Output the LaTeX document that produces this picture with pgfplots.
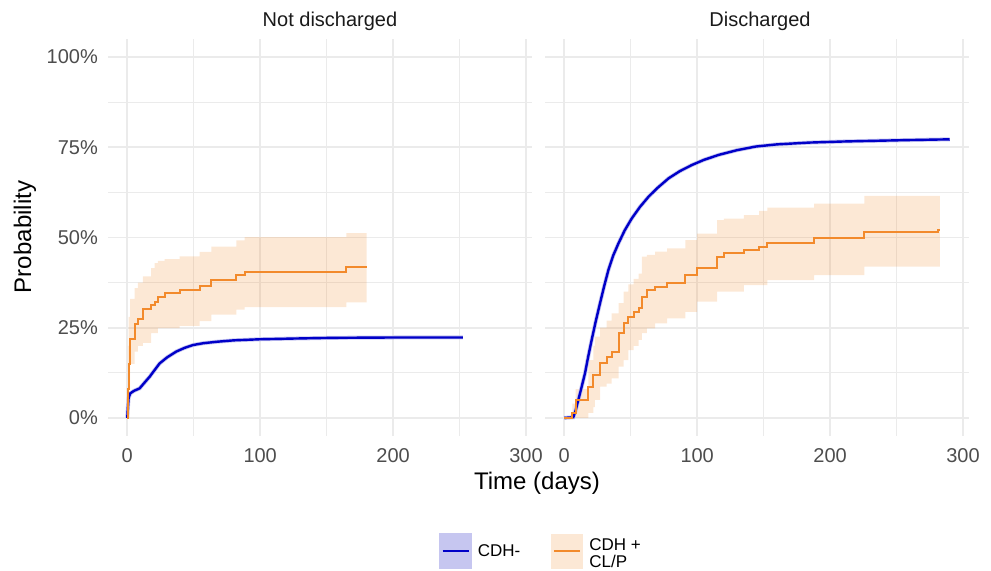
\documentclass[border=0pt]{standalone}
\usepackage{pgfplots}
\pgfplotsset{compat=1.18}
\usepackage{pgfplotstable}
\usepgfplotslibrary{fillbetween}
\usepackage{fontspec}
\setmainfont{Liberation Sans}

\definecolor{cdhblue}{HTML}{0000C8}
\definecolor{blueband}{HTML}{C6C6F0}
\definecolor{cdhorange}{HTML}{F28A2C}
\definecolor{orangeband}{HTML}{FCE8D5}
\definecolor{gridc}{HTML}{EBEBEB}
\definecolor{ticktext}{HTML}{4D4D4D}
\definecolor{striptext}{HTML}{1A1A1A}

% Not discharged, CDH-
\pgfplotstableread{
t est
0 0
0.5 3
1 5.5
2.2 6.8
5 7.5
9.3 8.2
13 9.8
16.8 11.4
20 13
24.3 15.1
30 16.8
36.9 18.4
43 19.4
49.4 20.2
57 20.7
67 21.1
80 21.5
99.6 21.8
125 22.0
154.8 22.2
205 22.3
252.5 22.3
}\leftblue

% Not discharged, CDH + CL/P
\pgfplotstableread{
t est lo hi
0 0 0 0
0.5 8 2 20
1 15 8 28
2.2 22 15 33
5.5 26 18.4 36
8 27.3 20 37.5
11.8 30.1 20.8 39.2
18 31.3 23.5 41.5
20.6 32.2 23.5 42.9
23.1 33.4 24.9 43.5
28.1 34.5 24.9 44
39.4 35.4 25.5 44.8
54.4 36.6 26.8 46
63.2 38.2 28.6 47.5
82 39.6 30 49.2
88.3 40.5 30.7 50.1
164.9 41.9 32 51.2
180 41.9 32 51.2
}\leftorange

% Discharged, CDH-
\pgfplotstableread{
t est
0 0
6.8 0.2
8.5 2
10.6 5
13 8.5
15.6 12.4
18 17
20.6 21.6
23.5 26.5
26.9 31.8
30 36.5
33.2 41
36.8 45
40.8 48.4
45.5 52
50.8 55.3
57 58.5
63.4 61.3
70 63.7
78.5 66.4
87 68.4
96.1 70.1
105 71.5
116.3 72.9
130 74.2
144 75.2
160 75.8
184.3 76.3
210 76.6
234.6 76.8
260 77.0
290 77.2
}\rightblue

% Discharged, CDH + CL/P
\pgfplotstableread{
t est lo hi
0 0 0 0
6 1.5 0 4
8.5 5 0 8
18.1 8.7 1.4 16
21.9 11.9 3 20
23.1 11.9 5 22.5
26.9 15.1 8.7 25
31.9 17 9.5 27
35.7 18.4 11 29
40.8 23.5 14.2 31.8
44.6 26.2 16 35
48.3 28.1 18.8 37
52.1 29.4 20 38.5
55.9 30.4 21.6 40
58.4 33.6 23.5 44.7
62.2 35.5 24.8 45.2
68.4 36.4 26.2 46.1
77.3 37.3 27.6 47
91.1 39.6 29.4 49.3
100 41.5 32.2 51.1
115 44.7 35 54.8
120 45.6 35 55.2
135.2 46.5 36.8 56.2
146.5 47.5 36.8 57.4
152.8 48.6 38.2 58.3
188 49.8 39.6 59.4
225.8 51.6 41.9 61.5
281 52.2 41.9 61.5
282.5 52.2 41.9 61.5
}\rightorange

\pgfplotsset{
  panel/.style={
    scale only axis, width=424pt, height=397pt, anchor=south west,
    xmin=-14.5, xmax=304.5, ymin=-5, ymax=105,
    xtick={0,100,200,300}, minor xtick={50,150,250},
    ytick={0,25,50,75,100}, minor ytick={12.5,37.5,62.5,87.5},
    xticklabels={0,100,200,300},
    grid=both,
    major grid style={color=gridc, line width=1.8pt},
    minor grid style={color=gridc, line width=0.9pt},
    axis line style={draw=none},
    major tick style={draw=none}, minor tick style={draw=none},
    tick label style={font=\fontsize{20}{24}\selectfont, text=ticktext, inner sep=0pt},
    xticklabel style={anchor=north, yshift=-12pt},
    yticklabel style={anchor=east, xshift=-10pt},
  },
  bandstyle/.style={fill=cdhorange, fill opacity=0.2, draw=none, forget plot},
}

\begin{document}
\begin{tikzpicture}
\path (0pt,0pt) rectangle (991pt,570pt);

\begin{axis}[panel, at={(108pt,134pt)},
  yticklabels={0\%,25\%,50\%,75\%,100\%},
  legend style={at={(1.0215,-0.2897)}, anchor=center, draw=none, fill=none,
    font=\fontsize{17}{18}\selectfont,
    legend columns=2,
    /tikz/every odd column/.append style={column sep=4pt},
    /tikz/every even column/.append style={column sep=29pt}},
  legend cell align=left,
]
\addplot[name path=hiL, draw=none, const plot, forget plot] table[x=t,y=hi]{\leftorange};
\addplot[name path=loL, draw=none, const plot, forget plot] table[x=t,y=lo]{\leftorange};
\addplot[bandstyle] fill between[of=hiL and loL];
\addplot[blueband, line width=4pt, forget plot] table[x=t,y=est]{\leftblue};
\addplot[cdhblue, line width=2.4pt,
  legend image code/.code={\fill[blueband] (0pt,-16.5pt) rectangle (30pt,16.5pt);
    \draw[cdhblue, line width=2.4pt] (2pt,0pt) -- (28pt,0pt);}]
  table[x=t,y=est]{\leftblue};
\addlegendentry{CDH-}
\addplot[cdhorange, line width=2pt, const plot,
  legend image code/.code={\fill[orangeband] (0pt,-16.5pt) rectangle (30pt,16.5pt);
    \draw[cdhorange, line width=2.2pt] (2pt,0pt) -- (28pt,0pt);}]
  table[x=t,y=est]{\leftorange};
\addlegendentry{\raisebox{3pt}{\begin{tabular}{@{}l@{}}CDH +\\[-1pt]CL/P\end{tabular}}}
\end{axis}

\begin{axis}[panel, at={(545pt,134pt)}, yticklabels={}]
\addplot[name path=hiR, draw=none, const plot, forget plot] table[x=t,y=hi]{\rightorange};
\addplot[name path=loR, draw=none, const plot, forget plot] table[x=t,y=lo]{\rightorange};
\addplot[bandstyle] fill between[of=hiR and loR];
\addplot[blueband, line width=4pt] table[x=t,y=est]{\rightblue};
\addplot[cdhblue, line width=2.4pt] table[x=t,y=est]{\rightblue};
\addplot[cdhorange, line width=2pt, const plot] table[x=t,y=est]{\rightorange};
\end{axis}

\node[font=\fontsize{20}{24}\selectfont, text=striptext] at (330pt,549pt) {Not discharged};
\node[font=\fontsize{20}{24}\selectfont, text=striptext] at (760pt,549pt) {Discharged};
\node[font=\fontsize{24}{28}\selectfont] at (537pt,87pt) {Time (days)};
\node[font=\fontsize{24}{28}\selectfont, rotate=90] at (25pt,333pt) {Probability};
\end{tikzpicture}
\end{document}
